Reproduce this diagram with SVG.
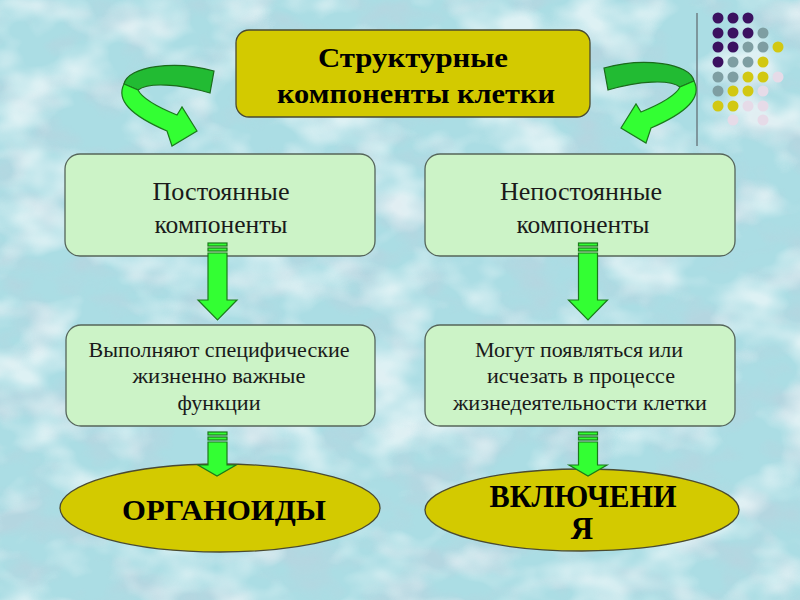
<svg xmlns="http://www.w3.org/2000/svg" xmlns:xlink="http://www.w3.org/1999/xlink" width="800" height="600" viewBox="0 0 800 600">
<defs>
<style>
.gbox{fill:#ccf3c7;stroke:#55655a;stroke-width:1.3}
.ybox{fill:#d3ca00;stroke:#4a4a30;stroke-width:1.3}
.t{font-family:"Liberation Serif","Times New Roman",serif;fill:#1a1a1a;text-anchor:middle}
.b{font-weight:bold;fill:#000}
.arr{fill:#33ff33;stroke:#1b7a1b;stroke-width:1.2}
.arrd{fill:#22bb33;stroke:#1b6a1b;stroke-width:1.2}
.dp{fill:#3b1160}.dg{fill:#7e9ea2}.dy{fill:#d2c812}.dk{fill:#e6dbe8}
</style>
<filter id="tex" x="0" y="0" width="100%" height="100%">
<feTurbulence type="fractalNoise" baseFrequency="0.014 0.02" numOctaves="3" seed="7"/>
<feColorMatrix type="matrix" values="0 0 0 0 1  0 0 0 0 1  0 0 0 0 1  3.2 0 0 0 -1.45"/>
</filter>
<filter id="tex2" x="0" y="0" width="100%" height="100%">
<feTurbulence type="fractalNoise" baseFrequency="0.018 0.026" numOctaves="3" seed="21"/>
<feColorMatrix type="matrix" values="0 0 0 0 0.48  0 0 0 0 0.66  0 0 0 0 0.74  0 3 0 0 -1.35"/>
</filter>
<g id="curl">
<path class="arrd" d="M124,84 C128,66 175,60 214,71 L210,93 C180,84 148,82 138,90 Z"/>
<path class="arr" d="M124,84 C116,100 130,115 167,131 L172,146 L197,131 L182,107 L177,115 C155,106 142,98 138,90 Z"/>
</g>
</defs>
<rect width="800" height="600" fill="#abdde4"/>
<rect width="800" height="600" filter="url(#tex2)" opacity="0.75"/>
<rect width="800" height="600" filter="url(#tex)" opacity="0.6"/>

<g id="deco">
<line x1="697" y1="13" x2="697" y2="146" stroke="#6e7e84" stroke-width="1.5"/>
<circle class="dp" cx="718" cy="18" r="5.5"/><circle class="dp" cx="733" cy="18" r="5.5"/><circle class="dp" cx="748" cy="18" r="5.5"/>
<circle class="dp" cx="718" cy="33" r="5.5"/><circle class="dp" cx="733" cy="33" r="5.5"/><circle class="dp" cx="748" cy="33" r="5.5"/><circle class="dg" cx="763" cy="33" r="5.5"/>
<circle class="dp" cx="718" cy="47" r="5.5"/><circle class="dp" cx="733" cy="47" r="5.5"/><circle class="dg" cx="748" cy="47" r="5.5"/><circle class="dg" cx="763" cy="47" r="5.5"/><circle class="dy" cx="778" cy="47" r="5.5"/>
<circle class="dp" cx="718" cy="62" r="5.5"/><circle class="dg" cx="733" cy="62" r="5.5"/><circle class="dg" cx="748" cy="62" r="5.5"/><circle class="dy" cx="763" cy="62" r="5.5"/>
<circle class="dg" cx="718" cy="77" r="5.5"/><circle class="dg" cx="733" cy="77" r="5.5"/><circle class="dy" cx="748" cy="77" r="5.5"/><circle class="dy" cx="763" cy="77" r="5.5"/><circle class="dk" cx="778" cy="77" r="5.5"/>
<circle class="dg" cx="718" cy="91" r="5.5"/><circle class="dy" cx="733" cy="91" r="5.5"/><circle class="dy" cx="748" cy="91" r="5.5"/><circle class="dk" cx="763" cy="91" r="5.5"/>
<circle class="dy" cx="718" cy="106" r="5.5"/><circle class="dy" cx="733" cy="106" r="5.5"/><circle class="dk" cx="748" cy="106" r="5.5"/><circle class="dk" cx="763" cy="106" r="5.5"/>
<circle class="dk" cx="733" cy="120" r="5.5"/><circle class="dk" cx="763" cy="120" r="5.5"/>
</g>

<g id="top">
<rect class="ybox" x="236" y="30" width="354" height="87" rx="13"/>
<text class="t b" x="413" y="67" font-size="27" textLength="190" lengthAdjust="spacingAndGlyphs">Структурные</text>
<text class="t b" x="416" y="103" font-size="27" textLength="278" lengthAdjust="spacingAndGlyphs">компоненты клетки</text>
</g>

<g id="const">
<rect class="gbox" x="65" y="154" width="310" height="102" rx="15"/>
<text class="t" x="221" y="200" font-size="25" textLength="137" lengthAdjust="spacingAndGlyphs">Постоянные</text>
<text class="t" x="221" y="233" font-size="25" textLength="133" lengthAdjust="spacingAndGlyphs">компоненты</text>
</g>

<g id="nonconst">
<rect class="gbox" x="425" y="154" width="310" height="102" rx="15"/>
<text class="t" x="581" y="200" font-size="25" textLength="162" lengthAdjust="spacingAndGlyphs">Непостоянные</text>
<text class="t" x="583" y="233" font-size="25" textLength="133" lengthAdjust="spacingAndGlyphs">компоненты</text>
</g>

<g id="func">
<rect class="gbox" x="66" y="325" width="309" height="101" rx="15"/>
<text class="t" x="219" y="357" font-size="20" textLength="261" lengthAdjust="spacingAndGlyphs">Выполняют специфические</text>
<text class="t" x="219" y="383" font-size="20" textLength="173" lengthAdjust="spacingAndGlyphs">жизненно важные</text>
<text class="t" x="219" y="410" font-size="20" textLength="83" lengthAdjust="spacingAndGlyphs">функции</text>
</g>

<g id="appear">
<rect class="gbox" x="425" y="325" width="310" height="101" rx="15"/>
<text class="t" x="579" y="357" font-size="20" textLength="208" lengthAdjust="spacingAndGlyphs">Могут появляться или</text>
<text class="t" x="581" y="383" font-size="20" textLength="188" lengthAdjust="spacingAndGlyphs">исчезать в процессе</text>
<text class="t" x="580" y="410" font-size="20" textLength="254" lengthAdjust="spacingAndGlyphs">жизнедеятельности клетки</text>
</g>

<g id="organoids">
<ellipse class="ybox" cx="220" cy="508" rx="160" ry="44"/>
<text class="t b" x="224" y="520" font-size="30" textLength="204" lengthAdjust="spacingAndGlyphs">ОРГАНОИДЫ</text>
</g>

<g id="inclusions">
<ellipse class="ybox" cx="582" cy="510" rx="157" ry="41"/>
<text class="t b" x="583" y="507" font-size="31" textLength="187" lengthAdjust="spacingAndGlyphs">ВКЛЮЧЕНИ</text>
<text class="t b" x="582" y="539" font-size="31">Я</text>
</g>

<g id="connectors">
<use xlink:href="#curl" href="#curl"/>
<use xlink:href="#curl" href="#curl" transform="translate(818,-3) scale(-1,1)"/>
<g>
<rect class="arr" x="208" y="243" width="19" height="3"/><rect class="arr" x="208" y="248" width="19" height="3"/>
<path class="arr" d="M208,253 H227 V300 H237 L217.5,320 L198,300 H208 Z"/>
</g>
<g>
<rect class="arr" x="578.5" y="243" width="19" height="3"/><rect class="arr" x="578.5" y="248" width="19" height="3"/>
<path class="arr" d="M578.5,253 H597.5 V300 H607.5 L588,320 L568.5,300 H578.5 Z"/>
</g>
<g>
<rect class="arr" x="208" y="432" width="19" height="3"/><rect class="arr" x="208" y="437" width="19" height="3"/>
<path class="arr" d="M208,442 H227 V465 H236 L217,476 L198,465 H208 Z"/>
</g>
<g>
<rect class="arr" x="578.5" y="432" width="19" height="3"/><rect class="arr" x="578.5" y="437" width="19" height="3"/>
<path class="arr" d="M578.5,442 H597.5 V465 H607 L588,476 L569,465 H578.5 Z"/>
</g>
</g>
</svg>
